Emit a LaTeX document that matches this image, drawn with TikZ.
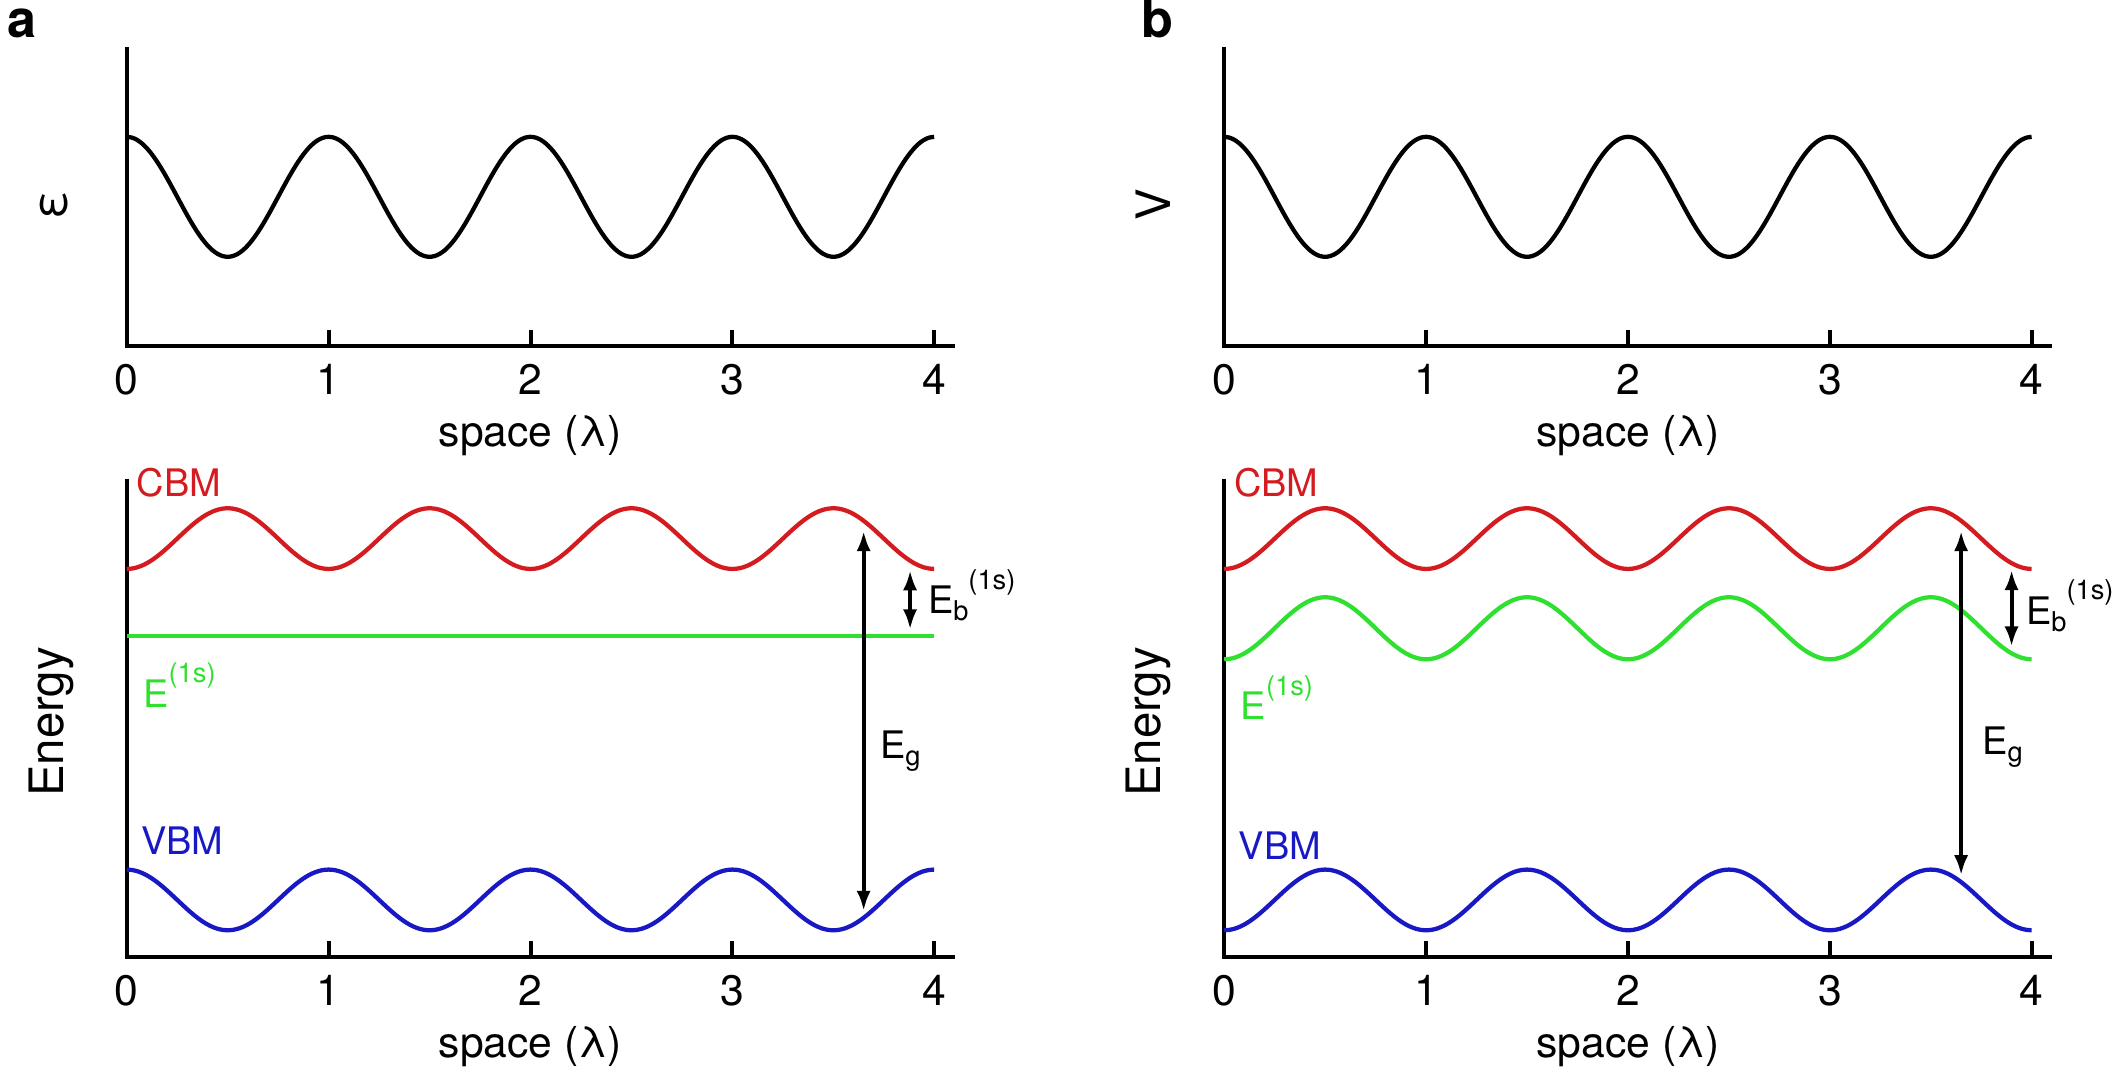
\documentclass[tikz,border=0pt]{standalone}
\usepackage{fontspec}
\setmainfont{TeX Gyre Heros}
\usetikzlibrary{arrows.meta,calc}

\definecolor{cbmred}{RGB}{212,28,32}
\definecolor{xgreen}{RGB}{48,224,48}
\definecolor{vbmblue}{RGB}{24,24,196}

% raised and lowered indices of the energy labels
\newcommand{\upidx}[1]{\raisebox{0.64em}{\fontsize{11.5}{13}\selectfont #1}}
\newcommand{\lowidx}[1]{\raisebox{-0.18em}{\fontsize{11.5}{13}\selectfont #1}}

\tikzset{
  axisline/.style={line width=1.7pt},
  wave/.style={line width=1.8pt, smooth, samples=161, domain=0:4},
  gaparrow/.style={line width=1.7pt, <->, >={Latex[length=3mm,width=2.1mm]},
    shorten <=0.1cm, shorten >=0.1cm},
  ticklab/.style={font=\fontsize{18}{21}\selectfont},
  ylab/.style={font=\fontsize{20}{24}\selectfont, rotate=90},
  bandlab/.style={font=\fontsize{16}{19}\selectfont, anchor=base west, inner sep=0pt},
  panel/.style={font=\fontsize{22}{26}\selectfont\bfseries, anchor=base west, inner sep=0pt},
}

\begin{document}
\begin{tikzpicture}
\useasboundingbox (0,0) rectangle (31.36,15.94);
% Define the lattice
\pgfmathsetmacro{\lam}{2.995} % one wavelength on the space axis, cm
\pgfmathsetmacro{\xend}{12.28} % length of the space axis, cm
\pgfmathsetmacro{\amp}{0.45} % band modulation, cm
\pgfmathsetmacro{\cb}{6.21} % CBM mean level, cm
\pgfmathsetmacro{\vb}{0.85} % VBM mean level, cm

% Panel letters
\node[panel] (la) at (0.11,15.38) {a};
\node[panel] (lb) at (16.92,15.38) {b};

% Axes and ticks of the four frames
\foreach \p/\ox/\oy/\ytop in {ta/1.88/10.80/4.44, tb/18.16/10.80/4.44, ba/1.88/1.74/7.10, bb/18.16/1.74/7.10}{
  \begin{scope}[shift={(\ox,\oy)}]
    \draw[axisline] (0,\ytop) -- (0,0) -- (\xend,0);
    \foreach \i in {0,...,4}{
      \draw[axisline] ({\i*\lam},0) -- ({\i*\lam},0.24);
      \node[ticklab] (\p\i) at ({\i*\lam},-0.49) {\i};
    }
    \node[ticklab] (\p-x) at ({2*\lam},-1.32) {space (λ)};
  \end{scope}
}

% a, top: dielectric screening
\begin{scope}[shift={(1.88,10.80)}]
\draw[wave] plot ({\x*\lam},{2.22+0.89*cos(360*\x)});
\node[ylab] (eps) at (-1.08,2.10) {ε};
\end{scope}

% b, top: potential
\begin{scope}[shift={(18.16,10.80)}]
\draw[wave] plot ({\x*\lam},{2.22+0.89*cos(360*\x)});
\node[ylab] (pot) at (-1.06,2.10) {V};
\end{scope}

% a, bottom: bands with a flat exciton level
\begin{scope}[shift={(1.88,1.74)}]
\draw[wave,cbmred] plot ({\x*\lam},{\cb-\amp*cos(360*\x)});
\draw[wave,xgreen] (0,4.76) -- ({4*\lam},4.76);
\draw[wave,vbmblue] plot ({\x*\lam},{\vb+\amp*cos(360*\x)});
\node[ylab] (ena) at (-1.12,3.49) {Energy};
\node[bandlab,cbmred] (cbma) at (0.14,6.84) {CBM};
\node[bandlab,xgreen] (exa) at (0.24,3.71) {E\upidx{(1s)}};
\node[bandlab,vbmblue] (vbma) at (0.21,1.53) {VBM};
% gap arrows
\coordinate (ega1) at ({3.65*\lam},{\cb-\amp*cos(360*3.65)-0.05});
\coordinate (ega2) at ({3.65*\lam},{\vb+\amp*cos(360*3.65)});
\coordinate (eba1) at ({3.88*\lam},{\cb-\amp*cos(360*3.88)-0.04});
\coordinate (eba2) at ({3.88*\lam},4.76);
\draw[gaparrow] (ega1) -- (ega2);
\draw[gaparrow] (eba1) -- (eba2);
\node[bandlab] (ega) at (11.17,2.95) {E\lowidx{g}};
\node[bandlab] (eba) at (11.88,5.10) {E\lowidx{b}\upidx{(1s)}};
\end{scope}

% b, bottom: bands with a modulated exciton level
\begin{scope}[shift={(18.16,1.74)}]
\draw[wave,cbmred] plot ({\x*\lam},{\cb-\amp*cos(360*\x)});
\draw[wave,xgreen] plot ({\x*\lam},{4.88-0.46*cos(360*\x)});
\draw[wave,vbmblue] plot ({\x*\lam},{\vb-\amp*cos(360*\x)});
\node[ylab] (enb) at (-1.12,3.49) {Energy};
\node[bandlab,cbmred] (cbmb) at (0.14,6.84) {CBM};
\node[bandlab,xgreen] (exb) at (0.24,3.52) {E\upidx{(1s)}};
\node[bandlab,vbmblue] (vbmb) at (0.21,1.45) {VBM};
% gap arrows
\coordinate (egb1) at ({3.65*\lam},{\cb-\amp*cos(360*3.65)-0.05});
\coordinate (egb2) at ({3.65*\lam},{\vb-\amp*cos(360*3.65)});
\coordinate (ebb1) at ({3.9*\lam},{\cb-\amp*cos(360*3.9)});
\coordinate (ebb2) at ({3.9*\lam},{4.88-0.46*cos(360*3.9)});
\draw[gaparrow] (egb1) -- (egb2);
\draw[gaparrow] (ebb1) -- (ebb2);
\node[bandlab] (egb) at (11.24,3.01) {E\lowidx{g}};
\node[bandlab] (ebb) at (11.89,4.94) {E\lowidx{b}\upidx{(1s)}};
\end{scope}
\end{tikzpicture}
\end{document}
